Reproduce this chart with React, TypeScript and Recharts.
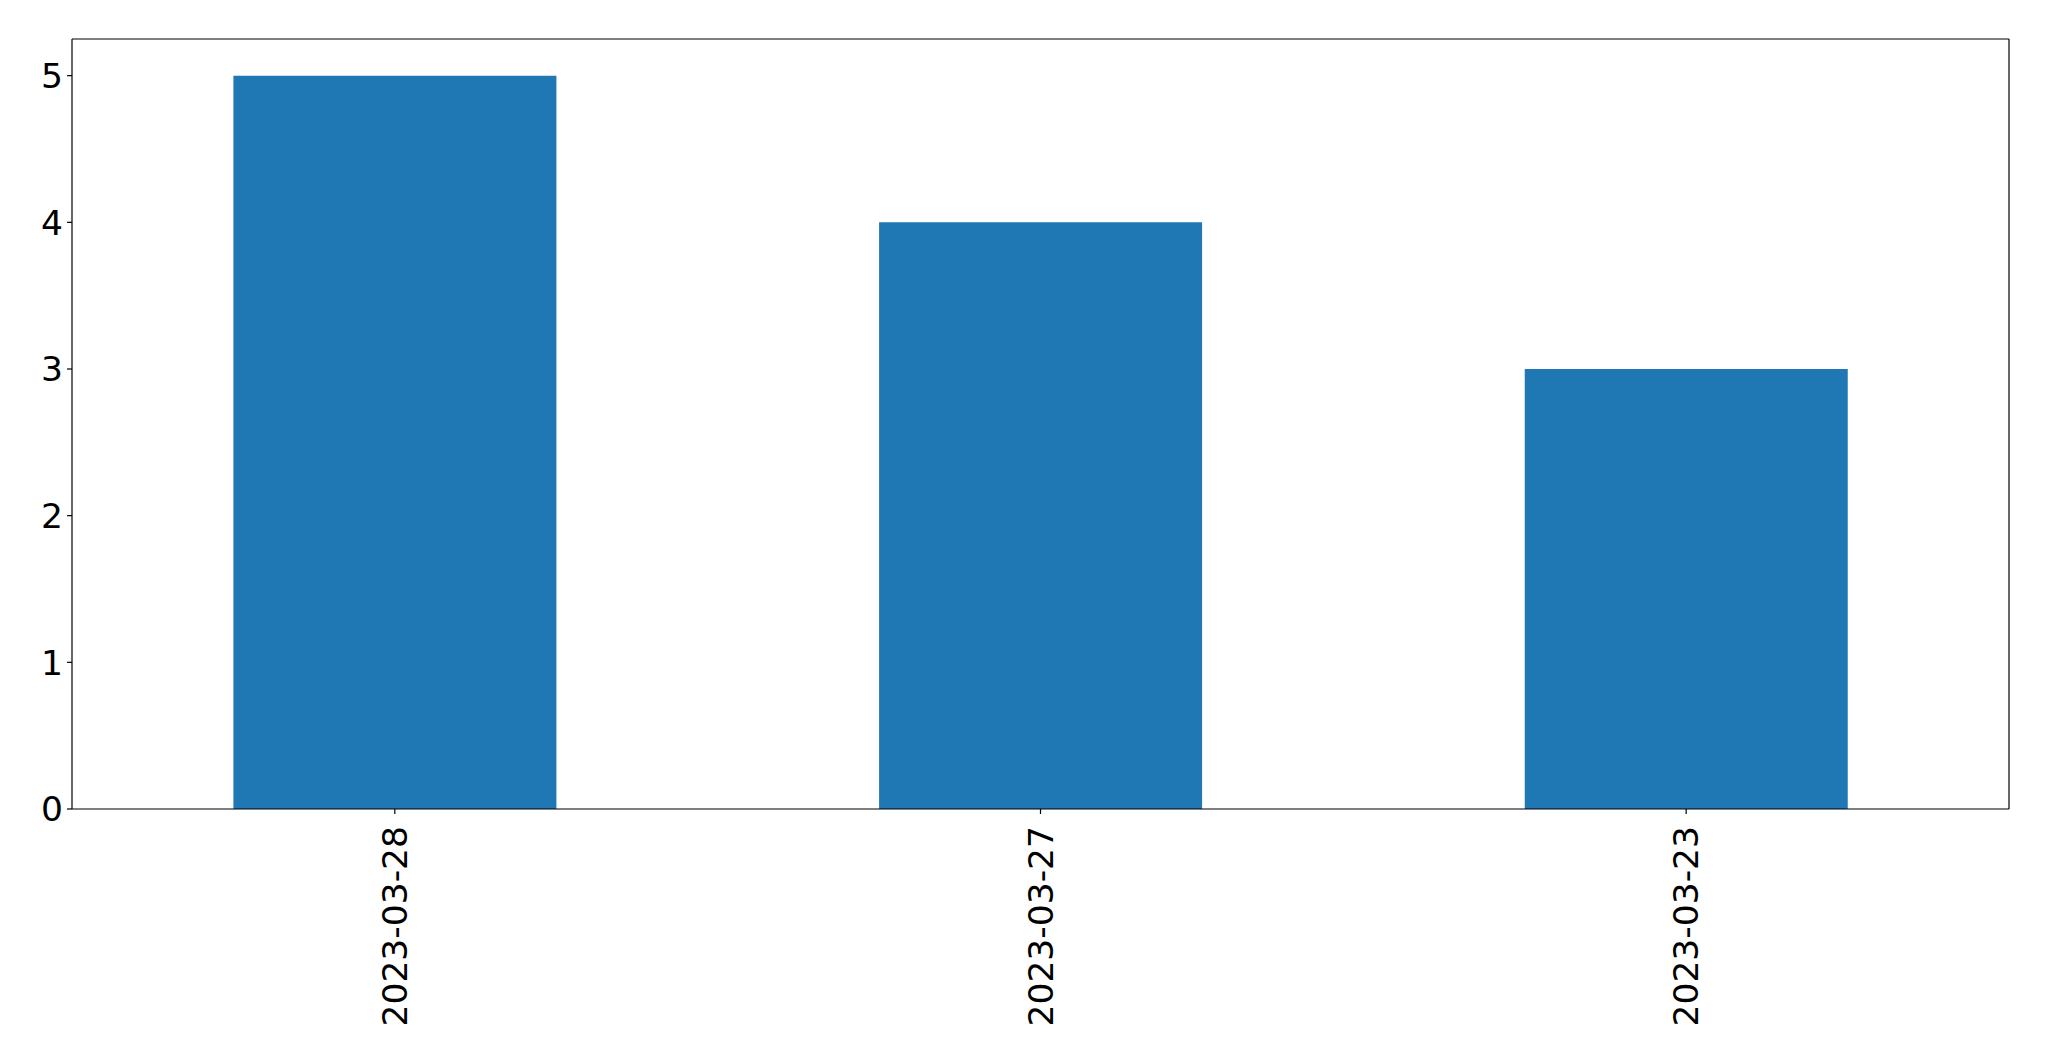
import React from 'react'
import { BarChart, Bar, XAxis, YAxis } from 'recharts'

const dates = ['2023-03-28', '2023-03-27', '2023-03-23']
const counts = [5, 4, 3]
const yTicks = [0, 1, 2, 3, 4, 5]

const data = dates.map((d, i) => ({ date: d, count: counts[i] }))

const DateTick = (props: any) => {
    const { x, y, payload } = props
    return (
        <g transform={`translate(${x},${y})`}>
            <text
                transform="rotate(-90)"
                x={-(826 - y)}
                y={0}
                dy="0.35em"
                textAnchor="end"
                fill="#000"
                fontSize={34.5}
                fontFamily="DejaVu Sans"
            >
                {payload.value}
            </text>
        </g>
    )
}

export default function App() {
    return (
        <div style={{ position: 'absolute', left: 0, top: 0, background: '#fff' }}>
            <BarChart width={2049} height={1061} data={data}
                margin={{ top: 38, right: 39, left: 0, bottom: 0 }}
                barCategoryGap="25%"
            >
                <XAxis dataKey="date" height={252} interval={0}
                    tick={<DateTick />}
                    tickSize={5}
                    tickLine={{ stroke: '#000', strokeWidth: 1.2 }}
                    axisLine={{ stroke: '#000', strokeWidth: 1.2 }}
                />
                <XAxis xAxisId="top" orientation="top" dataKey="date" height={1}
                    tick={false} tickLine={false}
                    axisLine={{ stroke: '#000', strokeWidth: 1.2 }}
                />
                <YAxis width={72} domain={[0, 5.25]} ticks={yTicks} interval={0}
                    tickSize={5} tickMargin={4}
                    tick={{ fill: '#000', fontSize: 34.5, fontFamily: 'DejaVu Sans' }}
                    tickLine={{ stroke: '#000', strokeWidth: 1.2 }}
                    axisLine={{ stroke: '#000', strokeWidth: 1.2 }}
                />
                <YAxis yAxisId="right" orientation="right" width={1} domain={[0, 5.25]}
                    tick={false} tickLine={false}
                    axisLine={{ stroke: '#000', strokeWidth: 1.2 }}
                />
                <Bar dataKey="count" fill="#1f77b4" isAnimationActive={false} />
            </BarChart>
        </div>
    )
}
